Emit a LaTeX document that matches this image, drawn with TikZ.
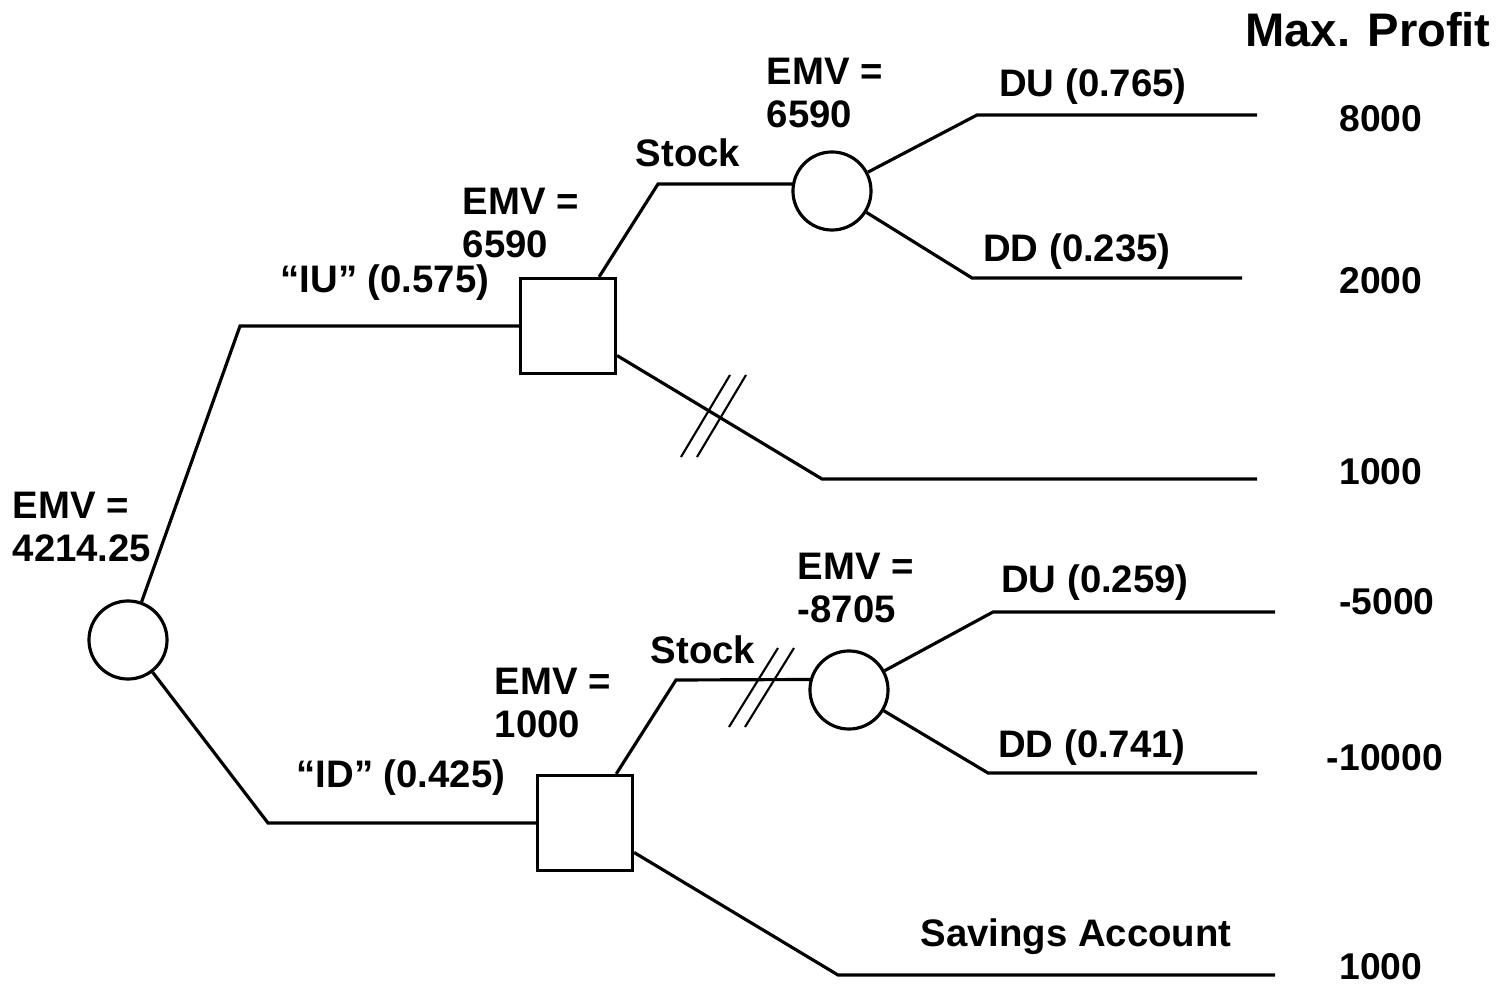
\documentclass[tikz,border=0pt]{standalone}
\usepackage{fontspec}
\setmainfont{Liberation Sans}
\usetikzlibrary{positioning,calc}

\tikzset{
  chance/.style={draw,circle,line width=0.9pt,minimum size=0.78cm,inner sep=0pt},
  decision/.style={draw,rectangle,line width=0.9pt,minimum size=0.95cm,inner sep=0pt},
  branch/.style={line width=0.9pt},
  cut/.style={line width=0.6pt},
  lbl/.style={font=\fontsize{10.9}{12.2}\selectfont\bfseries,inner sep=0pt,align=left},
  payoff/.style={font=\fontsize{10.6}{12.2}\selectfont\bfseries,inner sep=0pt}
}

\begin{document}
\begin{tikzpicture}[x=0.01cm,y=-0.01cm]
\useasboundingbox (0,0) rectangle (1499,985);

% decision and chance nodes
\node[chance] (root) at (128,640){};
\node[decision] (sqU) at (568,326){};
\node[decision] (sqL) at (585,823){};
\node[chance] (chU) at (832,191){};
\node[chance] (chL) at (849,690){};

% bends and leaf ends
\coordinate (iu) at (240,326);
\coordinate (id) at (268,823);
\coordinate (stU) at (658,184);
\coordinate (stL) at (676,680);
\coordinate (bondU) at (822,479);
\coordinate (bondUe) at (1257,479);
\coordinate (sav) at (838,975);
\coordinate (save) at (1275,975);
\coordinate (duU) at (977,115);
\coordinate (duUe) at (1257,115);
\coordinate (ddU) at (972,278);
\coordinate (ddUe) at (1242,278);
\coordinate (duL) at (993,612);
\coordinate (duLe) at (1275,612);
\coordinate (ddL) at (988,773);
\coordinate (ddLe) at (1257,773);

% branches
\draw[branch] (root) -- (iu) -- (sqU);
\draw[branch] (root) -- (id) -- (sqL);
\draw[branch] (sqU) -- (stU) -- (chU.170);
\draw[branch] (sqU) -- (bondU) -- (bondUe);
\draw[branch] (sqL) -- (stL) -- (chL.165);
\draw[branch] (sqL) -- (sav) -- (save);
\draw[branch] (chU) -- (duU) -- (duUe);
\draw[branch] (chU) -- (ddU) -- (ddUe);
\draw[branch] (chL) -- (duL) -- (duLe);
\draw[branch] (chL) -- (ddL) -- (ddLe);

% pruned branches
\draw[cut] (681,457) -- (730,375);
\draw[cut] (697,457) -- (746,375);
\draw[cut] (729,727) -- (778,648);
\draw[cut] (745,727) -- (794,648);

% labels
\node[lbl,anchor=west] (emvR) at (12,527){EMV =\\4214.25};
\node[lbl] (iuL) at (385,283){“IU” (0.575)};
\node[lbl] (idL) at (401,778){“ID” (0.425)};
\node[lbl,anchor=west] (emvSU) at (462,223){EMV =\\6590};
\node[lbl,anchor=west] (emvSL) at (494,703){EMV =\\1000};
\node[lbl] (stockU) at (688,153){Stock};
\node[lbl] (stockL) at (703,650){Stock};
\node[lbl,anchor=west] (emvCU) at (766,93){EMV =\\6590};
\node[lbl,anchor=west] (emvCL) at (797,588){EMV =\\-8705};
\node[lbl] (duUL) at (1093,87){DU (0.765)};
\node[lbl] (ddUL) at (1077,252){DD (0.235)};
\node[lbl] (duLL) at (1095,583){DU (0.259)};
\node[lbl] (ddLL) at (1092,748){DD (0.741)};
\node[lbl] (savL) at (1076,937){Savings Account};

% payoffs
\node[font=\fontsize{13.4}{15}\selectfont\bfseries,inner sep=0pt] (maxp) at (1368,30){Max. Profit};
\node[payoff] (p1) at (1381,119){8000};
\node[payoff] (p2) at (1381,281){2000};
\node[payoff] (p3) at (1381,472){1000};
\node[payoff] (p4) at (1387,602){-5000};
\node[payoff] (p5) at (1385,758){-10000};
\node[payoff] (p6) at (1381,967){1000};
\end{tikzpicture}
\end{document}
